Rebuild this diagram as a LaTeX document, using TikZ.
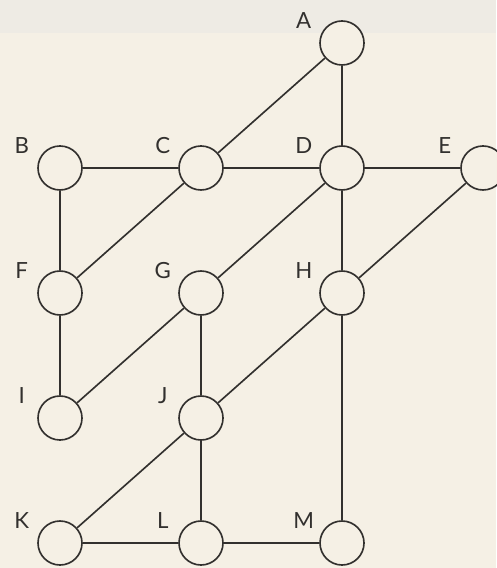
\documentclass[tikz,border=0pt]{standalone}
\usepackage{fontspec}
\setsansfont{Lato}
\usetikzlibrary{positioning}
\definecolor{papercolor}{RGB}{245,240,229}
\definecolor{bandcolor}{RGB}{238,235,228}
\definecolor{linecolor}{RGB}{50,48,46}

\begin{document}
\begin{tikzpicture}[
    % Vertex style
    vertex/.style={
        circle,
        draw=linecolor,
        line width=1.4pt,
        fill=papercolor,
        minimum size=1.32cm,
        inner sep=0pt
    },
    % Letter next to each vertex
    tag/.style={
        font=\sffamily\fontsize{19}{22}\selectfont,
        text=linecolor,
        anchor=center,
        label distance=0.64cm
    },
    % Connecting line
    link/.style={
        draw=linecolor,
        line width=1.4pt
    },
    node distance=3.75cm and 4.23cm,
    on grid
]

% ===== PAPER =====
\fill[papercolor] (-1.8,-12) rectangle (13.08,5.04);
\fill[bandcolor] (-1.8,4.05) rectangle (13.08,5.04);
\useasboundingbox (-1.8,-12) rectangle (13.08,5.04);

% ===== ROW 1 =====
\node[vertex, label={[tag]150:B}] (b) at (0,0) {};
\node[vertex, label={[tag]150:C}, right=of b] (c) {};
\node[vertex, label={[tag]150:D}, right=of c] (d) {};
\node[vertex, label={[tag]150:E}, right=of d] (e) {};

% ===== TOP =====
\node[vertex, label={[tag]150:A}, above=of d] (a) {};

% ===== ROW 2 =====
\node[vertex, label={[tag]150:F}, below=of b] (f) {};
\node[vertex, label={[tag]150:G}, below=of c] (g) {};
\node[vertex, label={[tag]150:H}, below=of d] (h) {};

% ===== ROW 3 =====
\node[vertex, label={[tag]150:I}, below=of f] (i) {};
\node[vertex, label={[tag]150:J}, below=of g] (j) {};

% ===== ROW 4 =====
\node[vertex, label={[tag]150:K}, below=of i] (k) {};
\node[vertex, label={[tag]150:L}, below=of j] (l) {};
\node[vertex, label={[tag]150:M}, right=of l] (m) {};

% ===== LINKS =====
\draw[link] (a) -- (c);
\draw[link] (a) -- (d);
\draw[link] (b) -- (c);
\draw[link] (c) -- (d);
\draw[link] (d) -- (e);
\draw[link] (b) -- (f);
\draw[link] (c) -- (f);
\draw[link] (d) -- (g);
\draw[link] (d) -- (h);
\draw[link] (e) -- (h);
\draw[link] (f) -- (i);
\draw[link] (g) -- (i);
\draw[link] (g) -- (j);
\draw[link] (h) -- (j);
\draw[link] (h) -- (m);
\draw[link] (j) -- (k);
\draw[link] (j) -- (l);
\draw[link] (k) -- (l);
\draw[link] (l) -- (m);

\end{tikzpicture}
\end{document}
